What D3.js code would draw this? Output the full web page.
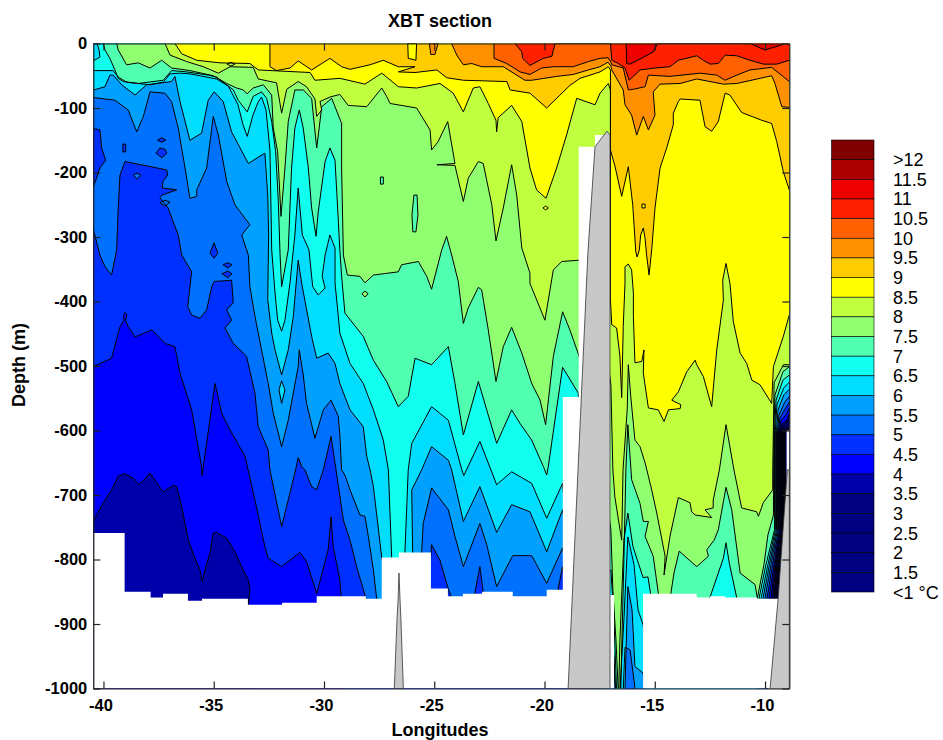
<!DOCTYPE html>
<html>
<head>
<meta charset="utf-8">
<title>XBT section</title>
<script src="https://cdn.jsdelivr.net/npm/d3@7"></script>
<style>
body { margin: 0; background: white; }
text { font-family: "Liberation Sans", Arial, sans-serif; fill: black; }
.axis text { font-weight: bold; font-size: 16.5px; font-family: "Liberation Sans", Arial, sans-serif; }
.axis path, .axis line { stroke: #222; stroke-width: 1.2; }
</style>
</head>
<body>
<div id="chart"></div>
<script>
const width = 943;
const height = 740;

// legend, top to bottom
const legendLabels = [">12", "11.5", "11", "10.5", "10", "9.5", "9", "8.5", "8", "7.5", "7", "6.5", "6", "5.5", "5", "4.5", "4", "3.5", "3", "2.5", "2", "1.5", "<1 °C"];
const legendColors = ["#7f0000", "#aa0000", "#ee0000", "#ff2000", "#ff6000", "#ff9000", "#ffcc00", "#ffff00", "#c0ff40", "#90ff70", "#50ffb0", "#10ffee", "#00ddff", "#00a0ff", "#0070ff", "#0030ff", "#0000ff", "#0000aa", "#000080", "#000080", "#000080", "#000080", "#000080"];

const lonTicks = [-40, -35, -30, -25, -20, -15, -10];
const depthTicks = [0, 100, 200, 300, 400, 500, 600, 700, 800, 900, 1000];

// isotherm depths: [longitude, depth in m]
const iso1_5 = [[-41,1060],[-10,1060],[-9.46,860],[-9.32,808],[-9.08,754],[-9.08,600],[-8.90,598]];
const iso2 = [[-41,1060],[-10,1060],[-9.50,860],[-9.37,808],[-9.12,754],[-9.12,600],[-8.90,596]];
const iso2_5 = [[-41,1060],[-10,1060],[-9.55,860],[-9.41,808],[-9.17,754],[-9.17,600],[-8.90,593]];
const iso3 = [[-41,1060],[-10,1060],[-9.59,860],[-9.46,808],[-9.21,754],[-9.21,600],[-9.15,596],[-8.90,588]];
const iso3_5 = [[-41,1060],[-10,1060],[-9.66,860],[-9.50,808],[-9.26,754],[-9.26,600],[-9.19,593],[-8.90,582]];
const iso4 = [[-40.84,760],[-40.46,741],[-40.31,731],[-40.01,712],[-39.63,692],[-39.33,671],[-39.02,667],[-38.65,674],[-38.42,683],[-38.19,678],[-37.89,666],[-37.66,677],[-37.29,695],[-36.83,685],[-36.68,687],[-36.45,718],[-36.15,770],[-35.85,798],[-35.62,816],[-35.52,834],[-35.40,816],[-35.17,790],[-35.02,759],[-34.87,758],[-34.41,767],[-34.04,788],[-33.73,811],[-33.43,832],[-33.36,847],[-33.43,870],[-33.36,1060],[-9.9,1060],[-9.73,860],[-9.55,808],[-9.30,754],[-9.30,600],[-9.24,590],[-9.01,584],[-8.90,574]];
const iso4_5 = [[-40.84,505],[-40.46,501],[-39.63,488],[-39.25,439],[-39.07,429],[-39.09,422],[-39.02,417],[-38.93,421],[-39.0,429],[-38.88,439],[-38.57,455],[-37.81,444],[-37.21,465],[-36.76,470],[-36.53,511],[-36.0,568],[-35.55,656],[-35.53,670],[-34.94,527],[-34.64,573],[-34.34,594],[-33.58,640],[-33.13,708],[-32.68,780],[-32.53,798],[-31.92,811],[-31.09,789],[-30.79,803],[-30.33,853],[-29.81,785],[-29.68,734],[-29.58,780],[-29.28,832],[-29.20,867],[-29.05,1060],[-10.0,1060],[-9.82,860],[-9.59,808],[-9.35,754],[-9.35,600],[-9.28,585],[-9.01,574],[-8.90,565]];
const iso5 = [[-40.84,129],[-40.16,134],[-40.08,162],[-39.90,181],[-40.16,193],[-40.42,219],[-40.84,243],[-40.39,297],[-40.16,328],[-39.93,346],[-39.63,359],[-39.40,320],[-39.33,255],[-39.25,204],[-39.02,183],[-37.13,196],[-37.09,204],[-37.30,214],[-37.33,224],[-36.68,227],[-37.35,235],[-37.44,239],[-37.07,255],[-36.61,297],[-36.45,328],[-36.0,354],[-36.18,408],[-36.0,421],[-35.62,426],[-35.32,413],[-35.09,377],[-34.98,369],[-34.19,367],[-34.11,402],[-34.41,413],[-34.19,429],[-34.49,441],[-34.11,465],[-33.51,485],[-33.13,542],[-32.98,594],[-32.53,630],[-32.45,661],[-31.92,749],[-31.32,666],[-31.17,642],[-31.01,656],[-30.86,661],[-30.56,687],[-30.33,692],[-30.03,661],[-29.68,609],[-29.50,650],[-29.12,739],[-28.82,770],[-28.52,811],[-28.10,860],[-27.46,925],[-25.42,925],[-25.12,777],[-24.74,801],[-24.36,846],[-23.83,893],[-23.38,893],[-23.15,850],[-22.93,811],[-22.78,850],[-22.47,893],[-19.75,893],[-19.39,847],[-19.18,811],[-18.75,925],[-17.48,1060],[-10.2,1060],[-9.91,860],[-9.66,808],[-9.39,754],[-9.39,600],[-9.32,580],[-9.06,565],[-8.90,556]];
const iso5_5 = [[-40.84,82],[-39.48,88],[-38.88,103],[-38.49,137],[-38.19,113],[-37.89,75],[-37.21,77],[-36.91,90],[-36.61,131],[-36.30,193],[-36.08,240],[-35.77,237],[-35.77,227],[-35.32,193],[-35.02,113],[-34.79,142],[-34.41,214],[-34.04,250],[-33.36,281],[-33.73,297],[-33.43,328],[-33.36,377],[-33.13,423],[-32.83,475],[-32.53,527],[-32.30,573],[-31.92,625],[-31.62,584],[-31.17,501],[-31.12,475],[-30.94,514],[-30.79,558],[-30.41,612],[-30.03,568],[-29.68,553],[-29.35,578],[-29.28,607],[-29.20,661],[-29.05,669],[-28.82,692],[-28.37,731],[-28.14,733],[-27.99,764],[-27.76,816],[-27.61,861],[-26.55,925],[-25.65,893],[-25.57,788],[-25.50,744],[-25.12,689],[-24.36,723],[-24.06,764],[-23.68,811],[-22.93,744],[-22.62,777],[-22.17,842],[-21.44,794],[-20.58,794],[-19.90,837],[-19.18,782],[-18.62,893],[-17.48,987],[-16.94,1060],[-16.5,1060],[-16.35,936],[-16.12,940],[-15.90,999],[-15.76,1060],[-10.23,1060],[-10.0,860],[-9.73,808],[-9.44,754],[-9.44,600],[-9.37,576],[-9.10,556],[-8.90,547]];
const iso6 = [[-40.84,76],[-39.93,67],[-39.71,49],[-39.56,49],[-39.17,64],[-38.57,80],[-38.04,64],[-37.59,62],[-36.91,59],[-36.76,51],[-36.53,90],[-36.08,150],[-35.55,139],[-35.25,88],[-34.98,75],[-34.57,90],[-34.19,137],[-33.43,186],[-32.68,170],[-32.55,235],[-32.51,297],[-32.55,397],[-32.37,449],[-32.22,475],[-31.92,514],[-31.62,475],[-31.39,423],[-31.17,336],[-31.01,372],[-30.56,454],[-30.33,488],[-29.81,480],[-29.50,496],[-29.28,527],[-28.82,568],[-28.22,594],[-28.06,640],[-27.91,661],[-27.76,687],[-27.38,797],[-26.78,893],[-26.19,893],[-25.98,788],[-26.02,692],[-25.57,661],[-25.12,625],[-24.36,646],[-24.21,661],[-23.68,741],[-22.93,687],[-22.17,758],[-21.49,715],[-20.66,726],[-19.90,788],[-19.18,723],[-18.62,863],[-17.48,925],[-16.90,925],[-16.71,1060],[-16.40,1060],[-16.22,842],[-16.03,878],[-15.90,966],[-15.53,976],[-15.22,1060],[-10.45,1060],[-10.09,860],[-9.80,808],[-9.48,754],[-9.48,600],[-9.41,568],[-9.15,545],[-8.90,536]];
const iso6_5 = [[-40.29,0],[-40.20,10],[-40.16,21],[-40.46,27],[-40.84,27],[-40.84,42],[-39.56,42],[-39.33,52],[-38.95,60],[-37.89,64],[-37.29,60],[-36.98,47],[-36.53,46],[-36.08,47],[-34.87,55],[-34.34,66],[-33.90,95],[-33.67,126],[-33.48,144],[-33.22,111],[-32.99,91],[-32.83,83],[-32.63,103],[-32.45,165],[-32.37,320],[-32.22,387],[-32.10,429],[-31.92,446],[-31.77,429],[-31.54,371],[-31.39,320],[-31.32,297],[-31.17,224],[-30.98,297],[-30.68,320],[-30.56,361],[-30.51,377],[-30.26,390],[-29.95,379],[-30.08,361],[-29.95,328],[-29.73,297],[-29.50,317],[-29.50,371],[-29.35,423],[-29.28,449],[-28.82,496],[-28.22,527],[-27.76,568],[-27.31,615],[-27.08,661],[-26.93,797],[-26.55,893],[-26.42,863],[-26.33,789],[-26.18,661],[-26.02,620],[-25.12,563],[-24.36,584],[-23.75,661],[-23.66,670],[-22.93,617],[-22.17,684],[-21.49,664],[-20.58,682],[-19.90,736],[-19.18,682],[-18.85,816],[-17.94,925],[-16.94,893],[-16.80,987],[-16.67,1060],[-16.40,893],[-16.22,765],[-15.94,808],[-15.76,878],[-15.53,901],[-15.22,987],[-10.45,987],[-10.18,860],[-9.87,808],[-9.53,754],[-9.53,600],[-9.46,560],[-9.15,534],[-8.90,525]];
const iso7 = [[-40.01,0],[-39.93,10],[-39.71,23],[-39.48,41],[-39.33,54],[-39.10,59],[-38.42,62],[-37.29,57],[-36.91,42],[-36.23,44],[-35.25,49],[-34.87,52],[-34.11,72],[-33.89,88],[-33.48,106],[-33.21,82],[-32.83,75],[-32.60,85],[-32.37,121],[-32.19,168],[-32.07,245],[-31.99,328],[-31.92,377],[-31.62,320],[-31.47,193],[-31.32,131],[-31.12,103],[-30.94,131],[-30.71,193],[-30.56,255],[-30.36,299],[-30.26,261],[-29.95,183],[-29.73,162],[-29.50,181],[-29.38,255],[-29.28,320],[-29.20,361],[-29.05,418],[-28.22,454],[-27.76,491],[-27.16,524],[-26.63,563],[-26.18,547],[-25.87,488],[-25.12,498],[-24.36,470],[-24.06,527],[-23.68,607],[-23.0,524],[-22.62,568],[-22.17,620],[-21.49,568],[-21.11,589],[-20.58,615],[-20.05,656],[-19.90,669],[-19.83,656],[-19.18,502],[-18.47,542],[-17.94,863],[-16.99,816],[-16.85,893],[-16.67,1060],[-16.58,925],[-16.40,770],[-16.22,728],[-15.99,780],[-15.53,828],[-15.31,827],[-15.18,855],[-15.0,925],[-12.95,925],[-12.49,858],[-12.12,821],[-11.89,798],[-11.77,774],[-11.62,806],[-11.28,860],[-10.91,925],[-10.5,925],[-10.27,860],[-9.96,808],[-9.57,754],[-9.57,600],[-9.50,553],[-9.19,522],[-8.90,514]];
const iso7_5 = [[-39.40,0],[-39.33,10],[-38.95,33],[-38.42,30],[-37.89,38],[-37.36,26],[-36.91,38],[-36.08,42],[-35.02,50],[-34.41,62],[-33.96,69],[-33.66,72],[-33.49,78],[-33.21,69],[-32.75,64],[-32.37,80],[-32.30,131],[-32.10,168],[-31.95,268],[-31.77,193],[-31.62,121],[-31.32,72],[-30.94,72],[-30.56,85],[-30.33,162],[-30.10,98],[-29.65,85],[-29.20,124],[-29.20,193],[-29.12,328],[-28.94,359],[-28.37,361],[-28.14,371],[-27.76,359],[-26.63,354],[-26.48,343],[-25.72,338],[-25.34,361],[-25.12,381],[-24.66,320],[-24.44,299],[-24.21,328],[-23.91,369],[-23.68,434],[-23.46,410],[-23.0,378],[-22.85,382],[-22.55,444],[-22.20,524],[-21.87,470],[-21.49,440],[-21.03,480],[-20.58,527],[-20.20,553],[-19.95,591],[-19.60,485],[-19.18,416],[-18.85,444],[-18.45,483],[-17.48,630],[-16.99,754],[-16.90,847],[-16.76,925],[-16.58,1060],[-16.49,925],[-16.40,801],[-16.31,661],[-16.22,591],[-16.05,676],[-15.67,713],[-15.52,741],[-15.29,741],[-15.44,764],[-15.07,795],[-14.84,852],[-14.76,893],[-14.31,893],[-14.28,855],[-14.13,821],[-13.89,787],[-13.63,795],[-13.10,811],[-12.57,795],[-12.64,785],[-12.31,770],[-12.12,754],[-11.77,688],[-11.51,723],[-11.13,821],[-10.45,839],[-10.35,860],[-10.05,808],[-9.87,762],[-9.62,731],[-9.60,600],[-9.55,545],[-9.19,509],[-8.90,501]];
const iso8 = [[-37.21,0],[-36.98,18],[-36.23,28],[-35.47,36],[-34.79,46],[-34.26,36],[-33.21,37],[-32.98,55],[-32.15,61],[-31.92,108],[-31.69,71],[-31.17,59],[-30.79,67],[-30.41,86],[-30.33,113],[-30.10,103],[-30.18,90],[-29.73,83],[-29.28,79],[-28.90,96],[-28.06,98],[-27.38,69],[-27.16,82],[-27.0,93],[-25.80,100],[-25.19,134],[-25.12,165],[-24.82,152],[-24.39,121],[-24.06,186],[-24.88,188],[-24.06,189],[-23.68,245],[-23.46,209],[-23.0,183],[-22.78,186],[-22.39,250],[-22.20,306],[-21.87,255],[-21.49,188],[-21.26,235],[-21.03,317],[-20.66,356],[-20.66,372],[-19.98,429],[-19.60,351],[-19.22,338],[-18.45,336],[-17.48,398],[-16.99,529],[-16.90,661],[-16.81,703],[-16.50,770],[-16.44,661],[-16.25,568],[-16.20,498],[-16.09,547],[-15.90,615],[-15.67,625],[-15.44,650],[-15.14,692],[-14.91,728],[-14.53,795],[-14.58,824],[-14.31,764],[-13.93,704],[-13.40,712],[-13.33,726],[-13.17,731],[-12.42,735],[-12.72,723],[-12.35,720],[-12.35,708],[-12.07,661],[-11.77,591],[-11.41,661],[-11.06,720],[-10.38,726],[-10.30,733],[-10.08,712],[-9.65,692],[-9.65,661],[-9.59,526],[-9.17,498],[-8.90,498]];
const iso8_5 = [[-36.76,0],[-36.45,16],[-35.77,26],[-34.72,30],[-33.36,31],[-32.98,41],[-30.63,45],[-30.41,57],[-29.28,54],[-28.14,63],[-27.38,46],[-26.63,67],[-25.80,69],[-24.74,62],[-24.14,77],[-23.68,106],[-23.23,69],[-22.93,67],[-22.55,93],[-22.20,119],[-22.17,137],[-22.10,115],[-21.49,96],[-21.03,121],[-20.66,193],[-20.36,227],[-19.93,240],[-19.45,193],[-19.0,142],[-18.54,85],[-17.71,95],[-17.48,77],[-17.11,62],[-17.01,72],[-17.01,398],[-16.95,436],[-16.73,441],[-16.58,485],[-16.50,549],[-16.43,439],[-16.35,371],[-16.35,346],[-16.20,342],[-16.05,351],[-15.97,387],[-15.97,423],[-15.90,495],[-15.59,493],[-15.49,475],[-15.52,511],[-15.29,565],[-14.84,568],[-14.58,586],[-14.38,568],[-13.85,566],[-13.82,560],[-14.23,553],[-13.93,540],[-13.55,509],[-13.17,491],[-13.10,498],[-12.80,516],[-12.42,563],[-12.19,475],[-11.89,398],[-11.92,367],[-11.77,341],[-11.59,372],[-11.44,431],[-11.13,480],[-10.83,496],[-10.60,522],[-10.23,529],[-9.70,558],[-9.62,501],[-9.17,454],[-8.90,421]];
const iso9 = [[-32.45,0],[-32.45,36],[-32.15,42],[-31.54,38],[-31.17,27],[-30.56,41],[-29.73,23],[-29.20,36],[-28.82,40],[-27.91,33],[-27.31,26],[-26.63,36],[-25.87,36],[-26.63,44],[-25.87,45],[-24.88,41],[-24.44,53],[-23.68,57],[-21.71,59],[-21.56,72],[-20.66,77],[-19.90,100],[-19.30,80],[-18.85,65],[-18.39,54],[-17.48,44],[-17.11,36],[-17.01,41],[-17.01,165],[-16.80,191],[-16.50,237],[-16.20,191],[-16.0,250],[-15.86,323],[-15.80,331],[-15.70,320],[-15.64,297],[-15.52,286],[-15.44,302],[-15.37,328],[-15.26,359],[-15.14,320],[-14.99,255],[-14.76,193],[-14.46,162],[-14.16,126],[-14.16,108],[-13.93,90],[-13.85,86],[-12.95,88],[-12.72,129],[-12.42,136],[-12.12,121],[-11.81,77],[-11.59,80],[-11.06,107],[-10.15,119],[-9.70,124],[-9.47,152],[-9.17,199],[-8.90,227]];
const iso9_5 = [[-24.21,0],[-23.98,18],[-23.68,33],[-23.30,31],[-22.85,36],[-21.87,36],[-20.89,57],[-20.58,57],[-19.45,51],[-18.70,48],[-18.01,41],[-17.48,36],[-17.12,29],[-16.99,35],[-16.95,41],[-16.43,72],[-16.35,95],[-16.05,111],[-15.82,142],[-15.52,113],[-15.29,134],[-14.99,111],[-15.07,75],[-14.76,63],[-13.85,62],[-13.10,55],[-11.89,63],[-11.28,62],[-9.70,50],[-9.55,62],[-9.24,98],[-8.90,99]];
const iso10 = [[-22.29,0],[-22.29,23],[-21.71,31],[-21.11,44],[-20.66,48],[-20.13,38],[-19.60,36],[-18.70,36],[-18.01,28],[-17.48,23],[-17.12,22],[-16.99,29],[-16.95,33],[-16.43,38],[-16.20,72],[-15.97,71],[-15.44,67],[-15.29,49],[-14.31,51],[-12.95,46],[-12.19,49],[-11.81,57],[-11.28,49],[-10.68,41],[-9.70,37],[-8.90,59]];
const iso10_5 = [[-21.34,0],[-21.03,13],[-20.99,23],[-20.66,34],[-20.05,23],[-19.67,20],[-19.52,0],[-17.01,0],[-16.95,26],[-16.65,31],[-16.35,38],[-16.16,57],[-15.67,41],[-14.99,38],[-14.31,36],[-13.93,26],[-13.10,19],[-12.80,26],[-12.49,32],[-12.12,31],[-11.81,18],[-11.28,19],[-10.68,26],[-10.08,32],[-9.47,32],[-8.90,26]];
const iso11 = [[-16.30,0],[-16.27,31],[-16.12,32],[-15.44,20],[-15.07,13],[-14.87,0],[-10.68,0],[-10.0,10],[-9.24,2],[-9.20,0]];

// each isotherm with the legend index of the band just above it
const isotherms = [
    [iso1_5, 21], [iso2, 20], [iso2_5, 19], [iso3, 18], [iso3_5, 17], [iso4, 16], [iso4_5, 15],
    [iso5, 14], [iso5_5, 13], [iso6, 12], [iso6_5, 11], [iso7, 10], [iso7_5, 9], [iso8, 8],
    [iso8_5, 7], [iso9, 6], [iso9_5, 5], [iso10, 4], [iso10_5, 3], [iso11, 2]
];

// small closed patches: [legend index, points]
const patches = [
    [15, [[-37.55,150],[-37.36,146],[-37.17,150],[-37.36,153]]],
    [15, [[-37.62,170],[-37.44,162],[-37.21,164],[-37.12,170],[-37.35,177]]],
    [15, [[-39.12,156],[-38.99,156],[-38.99,168],[-39.12,168]]],
    [14, [[-38.66,204],[-38.48,201],[-38.30,204],[-38.48,210]]],
    [14, [[-37.44,247],[-37.21,243],[-36.98,246],[-37.21,252]]],
    [15, [[-34.58,343],[-34.36,340],[-34.17,343],[-34.36,348]]],
    [15, [[-34.63,357],[-34.36,353],[-34.17,357],[-34.36,363]]],
    [15, [[-35.17,325],[-34.99,309],[-34.81,325],[-34.99,333]]],
    [9, [[-28.28,388],[-28.14,384],[-28.0,388],[-28.14,393]]],
    [10, [[-26.01,266],[-25.92,235],[-25.78,235],[-25.74,266],[-25.83,292],[-25.97,292]]],
    [10, [[-27.44,207],[-27.31,207],[-27.31,218],[-27.44,218]]],
    [7, [[-20.07,255],[-19.95,252],[-19.82,255],[-19.95,258]]],
    [7, [[-26.2,0],[-26.18,23],[-25.83,26],[-25.80,0]]],
    [5, [[-25.22,0],[-25.16,17],[-24.97,17],[-24.82,0]]],
    [8, [[-34.40,32],[-34.22,29],[-34.04,32],[-34.22,35]]],
    [7, [[-15.58,249],[-15.44,249],[-15.44,255],[-15.58,255]]],
    [12, [[-31.92,523],[-31.77,537],[-31.92,558],[-32.04,537]]]
];

// white area under the sea bed, stepped
const seabed = [[-40.46,759],[-39.04,850],[-37.86,859],[-37.30,853],[-36.17,864],[-35.53,861],[-33.45,870],[-31.90,867],[-30.33,857],[-28.10,861],[-27.38,797],[-26.60,789],[-25.15,845],[-24.38,857],[-23.70,853],[-22.83,850],[-21.44,857],[-19.90,847],[-19.17,548],[-18.45,160],[-17.71,142],[-17.03,855],[-16.85,1000],[-15.53,853],[-13.10,859],[-12.49,857],[-11.81,859],[-10.36,861],[-9.02,600],[-8.90,600]];

// grey topography
const ridgeMain = [[-18.93,1000],[-18.48,661],[-18.03,323],[-17.71,160],[-17.17,136],[-17.03,142],[-17.03,1000]];
const ridgeSmall = [[-26.81,1000],[-26.69,894],[-26.64,863],[-26.60,821],[-26.55,863],[-26.51,894],[-26.40,1000]];
const ridgeEast = [[-9.77,1000],[-9.40,858],[-8.99,661],[-8.90,661],[-8.90,1000]];

var svg = d3.select("#chart")
    .append("svg")
    .attr("width", width)
    .attr("height", height)
    .style("display", "block");

const x = d3.scaleLinear().domain([-40.46, -8.90]).range([93.3, 789.3]);
const y = d3.scaleLinear().domain([0, 1000]).range([43.5, 688.5]);

const line = d3.line().x(d => x(d[0])).y(d => y(d[1]));

svg.append("defs").append("clipPath")
    .attr("id", "plot")
    .append("rect")
    .attr("x", x.range()[0])
    .attr("y", y.range()[0])
    .attr("width", x.range()[1] - x.range()[0])
    .attr("height", y.range()[1] - y.range()[0]);

var plot = svg.append("g").attr("clip-path", "url(#plot)");

// coldest water first, then each warmer band painted over everything above its isotherm
plot.append("rect")
    .attr("x", x.range()[0])
    .attr("y", y.range()[0])
    .attr("width", x.range()[1] - x.range()[0])
    .attr("height", y.range()[1] - y.range()[0])
    .attr("fill", legendColors[22]);

plot.append("g")
    .selectAll("path")
    .data(isotherms)
    .join("path")
    .attr("d", d => {
        const pts = d[0];
        const closed = pts.concat([[x.domain()[1] + 1, pts[pts.length - 1][1]], [x.domain()[1] + 1, 0], [pts[0][0], 0]]);
        return line(closed) + "Z";
    })
    .attr("fill", d => legendColors[d[1]]);

plot.append("g")
    .selectAll("path")
    .data(patches)
    .join("path")
    .attr("d", d => line(d[1]) + "Z")
    .attr("fill", d => legendColors[d[0]])
    .attr("stroke", "black")
    .attr("stroke-width", 1);

plot.append("g")
    .selectAll("path")
    .data(isotherms)
    .join("path")
    .attr("d", d => line(d[0]))
    .attr("fill", "none")
    .attr("stroke", "black")
    .attr("stroke-width", 1);

plot.append("path")
    .datum(seabed)
    .attr("d", d3.area()
        .x(d => x(d[0]))
        .y0(d => y(d[1]))
        .y1(y(1000))
        .curve(d3.curveStepAfter))
    .attr("fill", "white");

plot.append("g")
    .selectAll("path")
    .data([ridgeMain, ridgeSmall, ridgeEast])
    .join("path")
    .attr("d", d => line(d) + "Z")
    .attr("fill", "#c8c8c8")
    .attr("stroke", "#333")
    .attr("stroke-width", 0.8);

// box with ticks pointing inward on all four sides
var xAxis = svg.append("g")
    .attr("class", "axis")
    .attr("transform", "translate(0," + y.range()[1] + ")")
    .call(d3.axisBottom(x).tickValues(lonTicks).tickSizeInner(-7).tickSizeOuter(0).tickPadding(11).tickFormat(d => d));
xAxis.selectAll("text").attr("dx", -3);

svg.append("g")
    .attr("class", "axis")
    .attr("transform", "translate(0," + y.range()[0] + ")")
    .call(d3.axisTop(x).tickValues(lonTicks).tickSizeInner(-7).tickSizeOuter(0).tickFormat(""));
svg.append("g")
    .attr("class", "axis")
    .attr("transform", "translate(" + x.range()[0] + ",0)")
    .call(d3.axisLeft(y).tickValues(depthTicks).tickSizeInner(-7).tickSizeOuter(0).tickPadding(6).tickFormat(d => d === 0 ? "0" : "-" + d));
svg.append("g")
    .attr("class", "axis")
    .attr("transform", "translate(" + x.range()[1] + ",0)")
    .call(d3.axisRight(y).tickValues(depthTicks).tickSizeInner(-7).tickSizeOuter(0).tickFormat(""));

svg.append("text")
    .attr("x", 440)
    .attr("y", 27)
    .attr("text-anchor", "middle")
    .style("font-weight", "bold")
    .style("font-size", "18px")
    .text("XBT section");

svg.append("text")
    .attr("x", 440)
    .attr("y", 736)
    .attr("text-anchor", "middle")
    .style("font-weight", "bold")
    .style("font-size", "18px")
    .text("Longitudes");

svg.append("text")
    .attr("transform", "translate(25,365) rotate(-90)")
    .attr("text-anchor", "middle")
    .style("font-weight", "bold")
    .style("font-size", "18px")
    .text("Depth (m)");

// colour legend
const legendY = d3.scaleBand().domain(d3.range(legendColors.length)).range([140, 592]);

svg.append("g")
    .selectAll("rect")
    .data(legendColors)
    .join("rect")
    .attr("x", 831.5)
    .attr("y", (d, i) => legendY(i))
    .attr("width", 42.5)
    .attr("height", legendY.bandwidth())
    .attr("fill", d => d)
    .attr("stroke", "black")
    .attr("stroke-width", 0.6);

svg.append("g")
    .selectAll("text")
    .data(legendLabels)
    .join("text")
    .attr("x", 893)
    .attr("y", (d, i) => legendY(i) + legendY.bandwidth() + 6.5)
    .style("font-size", "18px")
    .text(d => d);
</script>
</body>
</html>
